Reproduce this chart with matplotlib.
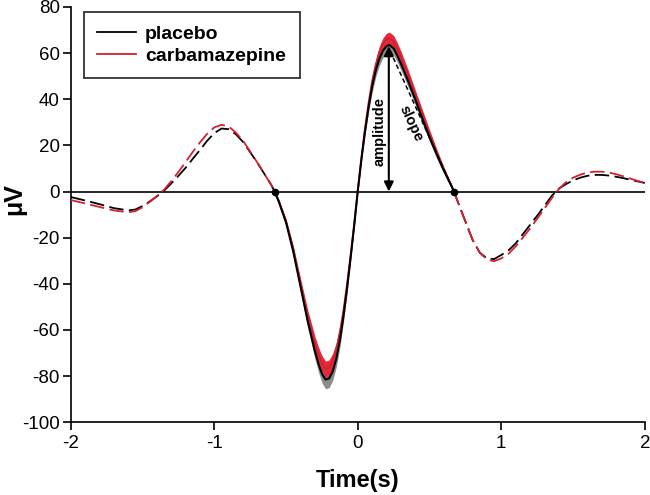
import matplotlib
matplotlib.use("Agg")
import matplotlib.pyplot as plt
import numpy as np
from matplotlib.lines import Line2D
from matplotlib import font_manager

# ---------------- data ----------------
time_pre = [-2.0, -1.9, -1.8, -1.7, -1.6, -1.55, -1.5, -1.45, -1.4, -1.35, -1.3, -1.25, -1.2,
            -1.15, -1.1, -1.05, -1.0, -0.95, -0.9, -0.85, -0.8, -0.75, -0.7, -0.65, -0.6, -0.58]
placebo_pre = [-2.4, -3.9, -5.5, -7.2, -8.2, -7.8, -6.3, -4.3, -2.1, 0.4, 3.5, 6.8, 10.3,
               14.2, 18.0, 22.0, 25.3, 27.3, 27.0, 24.8, 21.5, 17.0, 12.5, 7.5, 2.5, 0.0]
carba_pre = [-3.7, -5.2, -6.7, -8.2, -9.0, -8.5, -6.8, -4.5, -2.0, 0.8, 4.5, 8.5, 12.8,
             17.2, 21.3, 25.0, 27.8, 28.9, 28.2, 25.5, 22.0, 17.3, 12.5, 7.5, 2.5, 0.0]

time_core = [-0.58, -0.55, -0.5, -0.45, -0.4, -0.35, -0.3, -0.275, -0.25, -0.225, -0.2, -0.175,
             -0.15, -0.125, -0.1, -0.075, -0.05, -0.025, 0.0, 0.025, 0.05, 0.075, 0.1, 0.125,
             0.15, 0.175, 0.2, 0.22, 0.25, 0.275, 0.3, 0.35, 0.4, 0.45, 0.5, 0.55, 0.6, 0.65, 0.67]
placebo_core = [0.0, -4.5, -13.5, -26, -41, -56, -69, -74.5, -79, -81.5, -81, -78,
                -72.5, -64.5, -54, -42, -28.5, -14.5, 0.5, 14, 26, 36.5, 45.5, 52.5,
                57.5, 61, 63, 63.5, 62, 59, 55.5, 48, 40, 31.5, 23.5, 16, 9, 2.7, 0]
carba_core = [0.0, -4.3, -13, -25, -39.5, -53.5, -65.5, -70.5, -74.5, -77, -76.5, -73.5,
              -68.5, -61, -51.5, -40, -27.5, -14, 0.5, 14.5, 27.5, 38.5, 48, 55,
              60.5, 64, 66, 66.5, 65, 62, 58.5, 50.5, 42, 33.5, 25, 17, 9.5, 2.8, 0]
placebo_sem = [0.5, 0.8, 1.2, 1.8, 2.3, 2.8, 3.3, 3.6, 3.9, 4.0, 4.0, 3.8,
               3.5, 3.0, 2.5, 2.0, 1.5, 1.0, 0.8, 1.0, 1.5, 2.0, 2.4, 2.7,
               2.9, 3.0, 3.0, 3.0, 3.0, 2.9, 2.8, 2.6, 2.4, 2.1, 1.8, 1.5, 1.1, 0.7, 0.5]
carba_sem = [0.5, 0.8, 1.1, 1.6, 2.0, 2.4, 2.9, 3.2, 3.4, 3.5, 3.5, 3.4,
             3.1, 2.7, 2.3, 1.8, 1.4, 1.0, 0.8, 1.0, 1.4, 1.8, 2.1, 2.3,
             2.5, 2.6, 2.6, 2.6, 2.6, 2.5, 2.4, 2.3, 2.1, 1.9, 1.7, 1.4, 1.1, 0.7, 0.5]

time_post = [0.67, 0.7, 0.75, 0.8, 0.85, 0.9, 0.95, 1.0, 1.05, 1.1, 1.15, 1.2, 1.25, 1.3,
             1.35, 1.4, 1.45, 1.5, 1.55, 1.6, 1.65, 1.7, 1.75, 1.8, 1.85, 1.9, 1.95, 2.0]
placebo_post = [0, -5, -13, -21, -26.5, -29, -29.3, -27.5, -25.5, -22.5, -18.5, -14.5, -10.5, -6.3,
                -2, 1.2, 3.2, 4.8, 6.0, 6.8, 7.2, 7.2, 6.9, 6.4, 5.8, 5.1, 4.4, 3.7]
carba_post = [0, -5, -13, -21, -26.5, -29.5, -30.2, -29, -27, -23.8, -20, -16, -11.8, -7.5,
              -3, 1, 4, 6, 7.3, 8.2, 8.6, 8.6, 8.2, 7.5, 6.6, 5.6, 4.6, 3.7]

amp_time = 0.216
amp_value = 63.0
slope_start = (0.225, 61.0)
slope_end = (0.67, 0.0)
dot_times = [-0.58, 0.67]
dot_values = [0.0, 0.0]

x_ticks = [-2, -1, 0, 1, 2]
y_ticks = [-100, -80, -60, -40, -20, 0, 20, 40, 60, 80]
series_labels = ["placebo", "carbamazepine"]

# ---------------- style ----------------
names = {f.name for f in font_manager.fontManager.ttflist}
narrow = "Liberation Sans Narrow" in names
plt.rcParams["font.family"] = ["Liberation Sans", "DejaVu Sans"]
plt.rcParams["axes.unicode_minus"] = False

BLACK = "#000000"
RED = "#d42030"
RED_BAND = "#e32a3c"
GRAY_BAND = "#8c8c8c"

fig = plt.figure(figsize=(6.5, 4.95), dpi=100)
ax = fig.add_axes([0.109, 0.147, 0.883, 0.839])

ax.axhline(0, color=BLACK, lw=1.2, zorder=1)

dash = (0, (8, 3))
ax.plot(time_pre, placebo_pre, color=BLACK, lw=1.3, linestyle=dash, zorder=3)
ax.plot(time_pre, carba_pre, color=RED, lw=1.3, linestyle=dash, zorder=3)
ax.plot(time_post, placebo_post, color=BLACK, lw=1.3, linestyle=dash, zorder=3)
ax.plot(time_post, carba_post, color=RED, lw=1.3, linestyle=dash, zorder=3)

pc = np.array(placebo_core); ps = np.array(placebo_sem)
cc = np.array(carba_core); cs = np.array(carba_sem)
ax.fill_between(time_core, pc - ps, pc + ps, color=GRAY_BAND, lw=0, zorder=2)
ax.fill_between(time_core, cc - cs, cc + cs, color=RED_BAND, lw=0, zorder=2.5)
ax.plot(time_core, cc, color=RED, lw=1.3, zorder=3.5)
ax.plot(time_core, pc, color=BLACK, lw=1.5, zorder=4)

ax.plot(dot_times, dot_values, "o", color=BLACK, ms=4.5, zorder=6)

# amplitude arrow
ax.annotate("", xy=(amp_time, amp_value), xytext=(amp_time, 0),
            arrowprops=dict(arrowstyle="<|-|>", color=BLACK, lw=1.5,
                            mutation_scale=14, shrinkA=0, shrinkB=0), zorder=7)
ax.text(0.153, 26, "amplitude", rotation=90, ha="center", va="center",
        fontsize=10.5, fontweight="bold", zorder=7)
# slope line
ax.plot([slope_start[0], slope_end[0]], [slope_start[1], slope_end[1]],
        color=BLACK, lw=1.1, linestyle=(0, (3, 2)), zorder=5)
ax.text(0.372, 29.5, "slope", rotation=-65, ha="center", va="center",
        fontsize=10.5, fontweight="bold", zorder=7, rotation_mode="anchor")

ax.set_xlim(-2, 2)
ax.set_ylim(-100, 80)
ax.set_xticks(x_ticks)
ax.set_xticklabels([str(v) for v in x_ticks])
ax.set_yticks(y_ticks)
ax.set_yticklabels([str(v) for v in y_ticks])
ax.tick_params(axis="both", direction="out", length=6, width=1.2, labelsize=13.5, colors=BLACK)
ax.tick_params(axis="x", pad=3)
ax.tick_params(axis="y", pad=2)
for s in ["top", "right"]:
    ax.spines[s].set_visible(False)
for s in ["left", "bottom"]:
    ax.spines[s].set_linewidth(1.2)

if narrow:
    ax.set_xlabel("Time(s)", fontsize=20, fontweight="bold", family="Liberation Sans Narrow")
else:
    ax.set_xlabel("Time(s)", fontsize=17, fontweight="bold")
ax.xaxis.set_label_coords(0.5, -0.112)
ax.set_ylabel("μV", fontsize=18, fontweight="bold", va="center")
ax.yaxis.set_label_coords(-0.098, 0.537)

handles = [Line2D([], [], color=BLACK, lw=1.3), Line2D([], [], color=RED, lw=1.3)]
leg = ax.legend(handles, series_labels, loc="upper left", bbox_to_anchor=(0.0226, 0.988),
                borderaxespad=0, frameon=True, fancybox=False, handlelength=2.0,
                handletextpad=0.45, labelspacing=0.2, borderpad=0.7,
                prop={"weight": "bold", "size": 14})
leg.get_frame().set_edgecolor(BLACK)
leg.get_frame().set_linewidth(1.3)
leg.set_zorder(10)

fig.savefig("out.png", dpi=100)
